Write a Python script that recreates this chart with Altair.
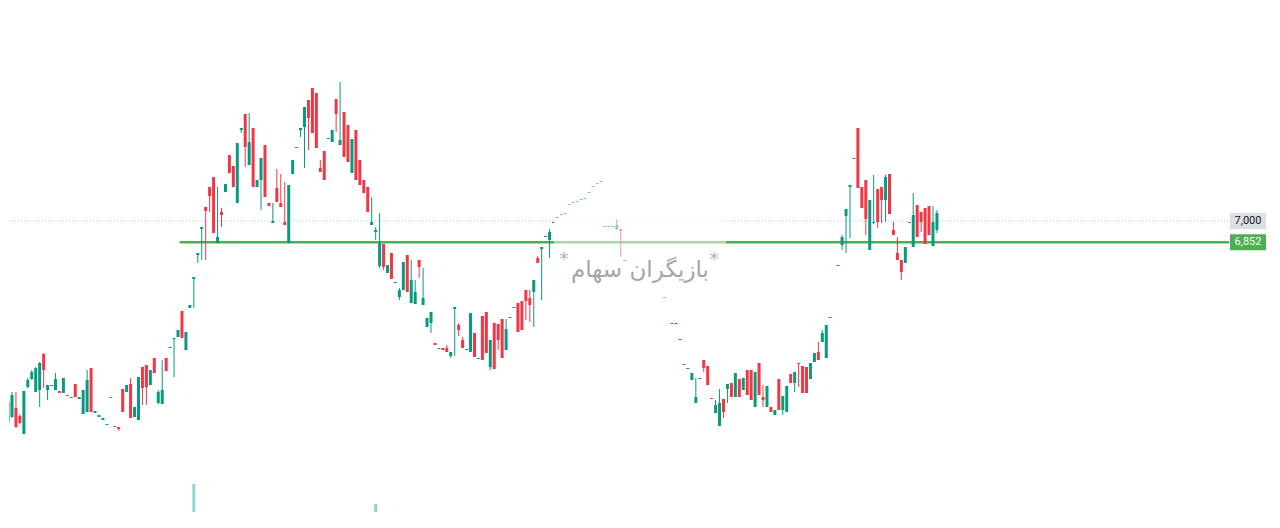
import altair as alt
import pandas as pd

# ---------------- data ----------------
slot = list(range(157)) + [166] + list(range(168, 209)) + list(range(210, 236))

open_ = [5593,5628,5691,5635,5509,5838,5894,5803,5817,6069,5817,5845,5817,5810,5796,5775,5768,5859,5754,5649,
         5663,5971,5656,5628,5607,5572,5761,5565,5558,5824,5803,5859,5628,5607,5978,5992,5852,6041,5726,5719,
         6041,6111,6174,6188,6370,6097,6391,6594,6762,6944,7098,7238,7308,6846,7063,7203,7462,7385,7126,7637,
         7749,7392,7651,7238,7287,7532,7126,6986,7231,7126,6993,6846,7329,7511,7637,7658,7847,7931,7896,7371,
         7490,7574,7553,7854,7532,7763,7672,7336,7637,7427,7287,7238,6972,6923,6685,6839,6636,6776,6566,6468,
         6517,6762,6426,6419,6727,6412,6258,6286,6146,6104,6111,6111,6055,6384,6272,6167,6097,6083,6216,6034,
         6335,6363,5978,6286,6279,6314,6097,6321,6391,6426,6440,6517,6461,6503,6741,6804,6888,6867,6986,7021,
         7042,7049,7112,7126,7133,7147,7154,7196,7238,7259,7273,6958,6958,6958,6944,6944,6720,
         6461,
         6279,6279,6167,5992,5964,5887,5726,5894,6027,5985,5761,5656,5565,5754,5824,5866,5768,5894,5817,5957,
         5957,5698,6006,5768,5698,5698,5642,5894,5677,5663,5929,5866,6006,5985,5978,5894,6013,6083,6153,6041,
         6321,
         6685,6832,7035,7238,7434,7651,7238,7287,6797,6986,7224,7238,7147,7329,6937,6776,6727,6706,6986,6818,
         7112,7063,7091,7105,6825,6937]

high = [5782,5803,5803,5649,5810,5901,5957,5978,6013,6076,5852,5852,5936,5810,5901,5782,5768,5859,5768,5817,
        5957,5971,5670,5642,5621,5579,5768,5565,5558,5824,5852,5901,5698,5908,5978,5992,5957,6041,5817,6027,
        6041,6118,6181,6237,6370,6223,6412,6608,6776,6958,7098,7238,7308,7238,7091,7259,7462,7385,7546,7651,
        7749,7756,7651,7287,7441,7532,7126,7126,7364,7329,7273,7252,7427,7518,7651,7798,7847,7931,7896,7427,
        7490,7581,7637,7854,7973,7763,7672,7574,7637,7427,7287,7238,7168,6958,7056,6839,6692,6776,6573,6531,
        6713,6762,6727,6587,6727,6671,6321,6363,6146,6111,6111,6132,6083,6398,6286,6188,6104,6356,6216,6041,
        6335,6363,6167,6286,6279,6314,6314,6328,6398,6426,6440,6517,6517,6587,6755,6818,6895,6944,6993,7028,
        7049,7056,7119,7133,7140,7154,7161,7203,7245,7266,7280,6965,6965,6965,7014,6944,6727,
        6468,
        6286,6286,6174,5999,5971,5936,5901,5901,6027,5985,5761,5747,5824,5754,5859,5866,5936,5894,5901,5957,
        5957,5943,6006,5852,5845,5698,5677,5894,5775,5845,5929,5943,6006,5985,5978,6006,6076,6153,6237,6272,
        6328,
        6692,6902,7084,7252,7441,7651,7238,7287,7147,7322,7224,7238,7322,7329,6993,6888,6727,6818,6993,7196,
        7112,7063,7091,7105,7105,7077]

low = [5572,5621,5551,5579,5509,5831,5887,5803,5698,5831,5747,5845,5817,5796,5796,5775,5761,5768,5754,5649,
       5663,5663,5656,5628,5607,5572,5761,5558,5530,5663,5803,5621,5628,5607,5712,5712,5852,5936,5719,5719,
       5950,6111,5908,6188,6181,6097,6391,6391,6706,6727,6727,7063,6916,6846,6958,7203,7336,7238,7126,7616,
       7378,7392,7238,7238,7077,7168,7105,6986,7133,7098,6972,6846,7329,7511,7588,7371,7497,7616,7511,7343,
       7287,7574,7553,7623,7532,7448,7413,7336,7287,7252,7196,7063,6972,6867,6671,6657,6636,6594,6566,6447,
       6517,6503,6426,6419,6601,6412,6258,6216,6132,6104,6097,6083,6041,6055,6195,6111,6097,6083,6048,6034,
       6027,6076,5957,5964,6097,6041,6097,6321,6391,6223,6237,6307,6293,6258,6706,6447,6888,6741,6986,7021,
       7042,7049,7112,7126,7133,7147,7154,7196,7238,7259,7273,6958,6958,6958,6937,6748,6720,
       6461,
       6279,6279,6167,5992,5964,5887,5726,5894,5943,5852,5754,5656,5565,5621,5726,5768,5768,5768,5817,5782,
       5747,5698,5782,5698,5698,5663,5642,5677,5642,5663,5866,5803,5838,5796,5796,5894,6013,6027,6153,6041,
       6321,
       6685,6797,6776,6881,7434,7231,7091,6902,6797,6979,6951,6986,6993,7049,6902,6727,6587,6706,6986,6818,
       6888,6923,6839,6902,6825,6916]

close = [5733,5782,5558,5586,5810,5887,5943,5971,6006,5957,5852,5852,5894,5796,5901,5782,5761,5768,5768,5817,
         5887,5663,5670,5642,5621,5579,5768,5558,5544,5663,5852,5621,5698,5908,5831,5838,5957,5936,5803,5817,
         5950,6118,6181,6237,6181,6223,6412,6608,6776,6958,7070,7175,6916,6888,7042,7259,7336,7238,7546,7651,
         7518,7553,7238,7287,7441,7168,7105,7000,7133,7098,6972,7252,7427,7518,7651,7798,7721,7616,7511,7343,
         7287,7581,7637,7749,7567,7448,7413,7574,7287,7252,7196,7063,6993,6937,6846,6678,6692,6594,6573,6517,
         6713,6503,6587,6503,6678,6461,6321,6363,6132,6111,6097,6083,6083,6398,6237,6111,6104,6356,6048,6041,
         6027,6076,6167,5964,6167,6041,6244,6328,6398,6223,6237,6440,6412,6587,6706,6818,6895,6923,6993,7028,
         7049,7056,7119,7133,7140,7154,7161,7203,7245,7266,7280,6965,6965,6965,6972,6930,6727,
         6468,
         6286,6286,6174,5999,5971,5936,5768,5901,5971,5852,5754,5712,5726,5663,5859,5768,5936,5768,5901,5782,
         5747,5943,5782,5747,5845,5663,5677,5677,5775,5845,5866,5943,5999,5796,5796,6006,6076,6027,6216,6272,
         6328,
         6692,6888,7084,7252,7441,7231,7091,7014,7147,6993,6993,7147,7308,7049,6902,6727,6643,6818,6993,7042,
         6888,6993,6839,6902,6993,7056]

# volume bars that reach into the visible pane
vol_slot = [47, 93]
vol_millions = [2.8, 0.8]

last_price = 7000
line_price = 6852
line_start_slot = 43.4
watermark_text = "بازیگران سهام"
watermark_star = "*"
last_label = "7,000"
line_label = "6,852"

# ---------------- chart ----------------
df = pd.DataFrame({"slot": slot, "open": open_, "high": high, "low": low, "close": close})
df["dir"] = ["up" if c >= o else "down" for o, c in zip(open_, close)]

xs = alt.Scale(domain=[1.505, 318.5], nice=False, zero=False)
ys = alt.Scale(domain=[4907, 8491], nice=False, zero=False)
cs = alt.Scale(domain=["up", "down"], range=["#089981", "#f23645"])

base = alt.Chart(df)
wicks = base.mark_rule(strokeWidth=1, clip=True).encode(
    x=alt.X("slot:Q", scale=xs, axis=None),
    y=alt.Y("low:Q", scale=ys, axis=None),
    y2="high:Q",
    color=alt.Color("dir:N", scale=cs, legend=None),
)
bodies = base.mark_bar(size=3, clip=True).encode(
    x=alt.X("slot:Q", scale=xs, axis=None),
    y=alt.Y("open:Q", scale=ys, axis=None),
    y2="close:Q",
    color=alt.Color("dir:N", scale=cs, legend=None),
)

vol_df = pd.DataFrame({"slot": vol_slot, "vol": vol_millions})
volume = alt.Chart(vol_df).mark_bar(size=3, clip=True, color="#93d5c9").encode(
    x=alt.X("slot:Q", scale=xs, axis=None),
    y=alt.Y("vol:Q", scale=alt.Scale(domain=[-0.8, 50.4], nice=False, zero=False), axis=None),
    y2=alt.datum(0),
)

dotted = alt.Chart(pd.DataFrame({"price": [last_price]})).mark_rule(
    strokeDash=[1, 2], color="#c3c6ce", strokeWidth=1
).encode(y=alt.Y("price:Q", scale=ys, axis=None), x=alt.value(0), x2=alt.value(1220))

green = alt.Chart(pd.DataFrame({"price": [line_price], "start": [line_start_slot]})).mark_rule(
    color="#4caf50", strokeWidth=2.5
).encode(
    x=alt.X("start:Q", scale=xs, axis=None),
    x2=alt.value(1220),
    y=alt.Y("price:Q", scale=ys, axis=None),
)

veil = alt.Chart(pd.DataFrame({"a": [0]})).mark_rect(color="white", opacity=0.5).encode(
    x=alt.value(545), x2=alt.value(717), y=alt.value(162), y2=alt.value(292)
)

wm = alt.Chart(pd.DataFrame({"t": [watermark_text]})).mark_text(
    font="DejaVu Sans", fontSize=23, color="#a6a6a6", align="center", baseline="middle"
).encode(text="t:N", x=alt.value(631), y=alt.value(262))

stars = alt.Chart(pd.DataFrame({"t": [watermark_star, watermark_star], "px": [555, 705]})).mark_text(
    font="DejaVu Sans", fontSize=18, color="#b0b0b0", align="center", baseline="middle"
).encode(text="t:N", x=alt.X("px:Q", scale=None), y=alt.value(252))

box_path = "M-1,-0.444L1,-0.444L1,0.444L-1,0.444Z"
lab1 = pd.DataFrame({"price": [last_price], "label": [last_label]})
lab2 = pd.DataFrame({"price": [line_price], "label": [line_label]})

box1 = alt.Chart(lab1).mark_point(shape=box_path, filled=True, size=1296, opacity=1, color="#dcdee5").encode(
    x=alt.value(1239), y=alt.Y("price:Q", scale=ys, axis=None)
)
txt1 = alt.Chart(lab1).mark_text(font="Roboto", fontSize=11, color="#131722", baseline="middle").encode(
    x=alt.value(1239), y=alt.Y("price:Q", scale=ys, axis=None), text="label:N"
)
box2 = alt.Chart(lab2).mark_point(shape=box_path, filled=True, size=1296, opacity=1, color="#4caf50").encode(
    x=alt.value(1239), y=alt.Y("price:Q", scale=ys, axis=None)
)
txt2 = alt.Chart(lab2).mark_text(font="Roboto", fontSize=11, color="#ffffff", baseline="middle").encode(
    x=alt.value(1239), y=alt.Y("price:Q", scale=ys, axis=None), text="label:N"
)

chart = (
    alt.layer(dotted, green, wicks, bodies, volume, veil, wm, stars, box1, txt1, box2, txt2)
    .resolve_scale(y="independent")
    .properties(
        width=1264,
        height=512,
        padding=0,
        background="white",
        autosize=alt.AutoSizeParams(type="fit", contains="padding"),
    )
    .configure_view(stroke=None)
)

chart.save("out.html", embed_options={"renderer": "svg", "actions": False})
